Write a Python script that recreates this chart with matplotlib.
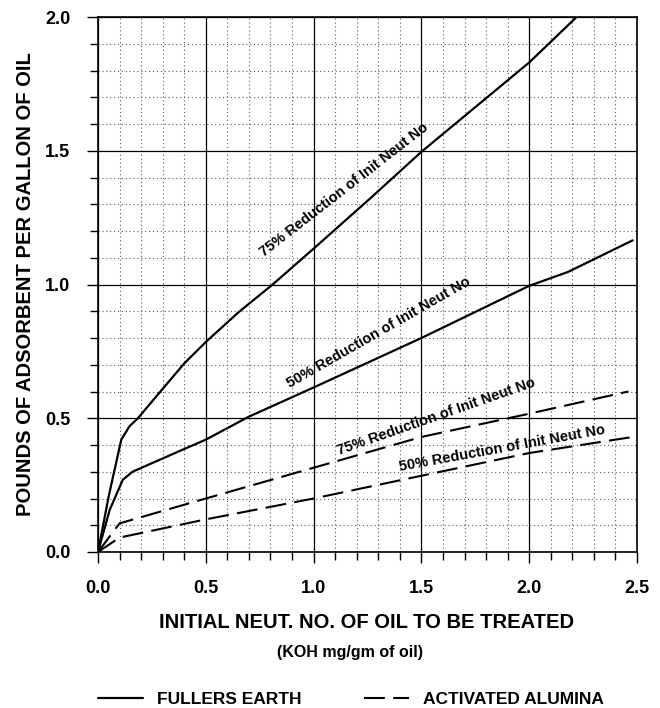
import matplotlib

matplotlib.use("Agg")
import matplotlib.pyplot as plt  # noqa: E402
from matplotlib.lines import Line2D  # noqa: E402
from matplotlib.ticker import MultipleLocator  # noqa: E402

plt.rcParams["font.family"] = ["Liberation Sans", "DejaVu Sans"]
plt.rcParams["font.weight"] = "bold"

# Fullers earth (solid curves)
fe75_x = [0.0, 0.05, 0.108, 0.146, 0.185, 0.3, 0.4, 0.5, 0.65, 0.81, 1.0, 1.26, 1.5, 2.0, 2.22]
fe75_y = [0.0, 0.21, 0.42, 0.47, 0.50, 0.61, 0.705, 0.785, 0.895, 1.0, 1.134, 1.32, 1.496, 1.83, 2.0]
fe50_x = [0.0, 0.054, 0.115, 0.16, 0.377, 0.5, 0.70, 1.0, 1.5, 2.0, 2.18, 2.48]
fe50_y = [0.0, 0.157, 0.27, 0.30, 0.377, 0.42, 0.506, 0.615, 0.80, 0.995, 1.047, 1.165]

# Activated alumina (dashed curves)
aa75_x = [0.0, 0.1, 0.5, 1.0, 1.5, 2.0, 2.46]
aa75_y = [0.0, 0.107, 0.20, 0.315, 0.43, 0.517, 0.60]
aa50_x = [0.0, 0.1, 0.5, 1.0, 1.5, 2.0, 2.48]
aa50_y = [0.0, 0.054, 0.122, 0.20, 0.285, 0.37, 0.43]

# curve labels: text, x, y, angle
curve_labels = [
    ("75% Reduction of Init Neut No", 1.14, 1.355, 37.8),
    ("50% Reduction of Init Neut No", 1.30, 0.822, 29.8),
    ("75% Reduction of Init Neut No", 1.57, 0.504, 19.3),
    ("50% Reduction of Init Neut No", 1.874, 0.386, 10.3),
]

W, H = 660, 708
fig = plt.figure(figsize=(W / 100, H / 100), dpi=100)
ax = fig.add_axes([98 / W, 1 - 552 / H, (637 - 98) / W, (552 - 17) / H])

solid = dict(color="black", lw=1.6, solid_capstyle="round")
dashed = dict(color="black", lw=1.5, linestyle=(0, (10, 4)))
ax.plot(fe75_x, fe75_y, **solid)
ax.plot(fe50_x, fe50_y, **solid)
ax.plot(aa75_x, aa75_y, **dashed)
ax.plot(aa50_x, aa50_y, **dashed)

for txt, x, y, ang in curve_labels:
    ax.text(x, y, txt, rotation=ang, rotation_mode="anchor", ha="center", va="center",
            fontsize=10.5, fontweight="bold")

ax.set_xlim(0, 2.5)
ax.set_ylim(0, 2.0)
ax.xaxis.set_major_locator(MultipleLocator(0.5))
ax.xaxis.set_minor_locator(MultipleLocator(0.1))
ax.yaxis.set_major_locator(MultipleLocator(0.5))
ax.yaxis.set_minor_locator(MultipleLocator(0.1))
ax.xaxis.set_major_formatter(lambda v, p: f"{v:.1f}")
ax.yaxis.set_major_formatter(lambda v, p: f"{v:.1f}")

ax.grid(which="major", color="black", lw=0.9)
ax.grid(which="minor", color="0.35", lw=0.8, linestyle=(0, (1, 2.5)))
ax.set_axisbelow(True)
ax.tick_params(which="both", direction="out", width=1.0, color="black")
ax.tick_params(which="major", length=8, labelsize=13, pad=12)
ax.tick_params(which="minor", length=6)
for lab in ax.get_xticklabels() + ax.get_yticklabels():
    lab.set_fontweight("bold")
for s in ax.spines.values():
    s.set_linewidth(1.2)

ax.set_ylabel("POUNDS OF ADSORBENT PER GALLON OF OIL", fontsize=14.5, fontweight="bold", labelpad=7)
fig.text(367 / W, 1 - 623 / H, "INITIAL NEUT. NO. OF OIL TO BE TREATED",
         ha="center", va="center", fontsize=14.5, fontweight="bold")
fig.text(350 / W, 1 - 653 / H, "(KOH mg/gm of oil)",
         ha="center", va="center", fontsize=11.5, fontweight="bold")

handles = [Line2D([], [], **solid), Line2D([], [], **dashed)]
fig.legend(handles, ["FULLERS EARTH", "ACTIVATED ALUMINA"], ncol=2, frameon=False,
           loc="center left", bbox_to_anchor=(98 / W, 1 - 699 / H), borderpad=0,
           borderaxespad=0, handlelength=2.6, handletextpad=0.8, columnspacing=3.6,
           prop={"size": 12.5, "weight": "bold"})

fig.savefig("out.png", dpi=100)
